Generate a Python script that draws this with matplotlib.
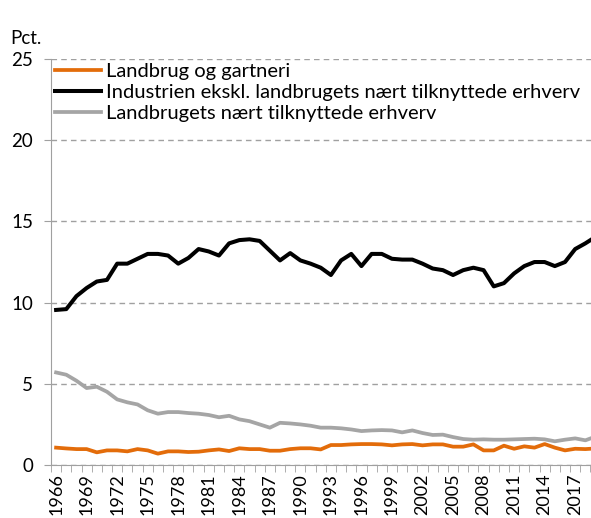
import numpy as np
import matplotlib
matplotlib.use("Agg")
import matplotlib.pyplot as plt
from matplotlib.ticker import MultipleLocator, FixedLocator

plt.rcParams['font.family'] = ['Lato', 'DejaVu Sans']

years = np.arange(1966, 2020)

landbrug = [1.07, 1.02, 0.98, 0.98, 0.78, 0.90, 0.90, 0.84, 0.98, 0.90,
            0.70, 0.84, 0.84, 0.80, 0.82, 0.90, 0.96, 0.86, 1.03, 0.98,
            0.98, 0.88, 0.88, 0.98, 1.03, 1.03, 0.96, 1.23, 1.23, 1.27,
            1.29, 1.29, 1.27, 1.21, 1.27, 1.29, 1.21, 1.27, 1.27, 1.13,
            1.13, 1.27, 0.90, 0.90, 1.19, 1.00, 1.15, 1.07, 1.29, 1.07,
            0.90, 1.00, 0.98, 1.02]

industri = [9.55, 9.60, 10.40, 10.90, 11.30, 11.40, 12.40, 12.40, 12.70, 13.00,
            13.00, 12.90, 12.40, 12.75, 13.30, 13.15, 12.90, 13.65, 13.85, 13.90,
            13.80, 13.20, 12.60, 13.05, 12.60, 12.40, 12.15, 11.70, 12.60, 13.00,
            12.25, 13.00, 13.00, 12.70, 12.65, 12.65, 12.40, 12.10, 12.00, 11.70,
            12.00, 12.15, 12.00, 11.00, 11.20, 11.80, 12.25, 12.50, 12.50, 12.25,
            12.50, 13.30, 13.65, 14.05]

tilknyttede = [5.70, 5.56, 5.19, 4.74, 4.82, 4.51, 4.04, 3.86, 3.73, 3.37,
               3.16, 3.26, 3.26, 3.20, 3.16, 3.08, 2.94, 3.03, 2.81, 2.70,
               2.50, 2.30, 2.60, 2.56, 2.50, 2.42, 2.30, 2.30, 2.26, 2.19,
               2.09, 2.13, 2.15, 2.13, 2.01, 2.13, 1.97, 1.85, 1.87, 1.72,
               1.60, 1.56, 1.58, 1.56, 1.56, 1.58, 1.60, 1.62, 1.58, 1.46,
               1.56, 1.64, 1.52, 1.75]

labels = ["Landbrug og gartneri",
          "Industrien ekskl. landbrugets nært tilknyttede erhverv",
          "Landbrugets nært tilknyttede erhverv"]

fig = plt.figure(figsize=(5.91, 5.18), dpi=100)
ax = fig.add_axes([0.0863, 0.1023, 0.93, 0.7837])

ax.plot(years, landbrug, color='#E36C0A', lw=2.7, label=labels[0])
ax.plot(years, industri, color='black', lw=2.9, label=labels[1])
ax.plot(years, tilknyttede, color='#A5A5A5', lw=2.7, label=labels[2])

ax.set_xlim(1965.5, 2019.5)
ax.set_ylim(0, 25)

ax.yaxis.set_major_locator(MultipleLocator(5))
ax.grid(axis='y', color='#A0A0A0', ls=(0, (4, 3)), lw=1)
ax.set_axisbelow(True)

# tick marks between the years, labels every third year
ax.xaxis.set_major_locator(FixedLocator(years[::3]))
ax.xaxis.set_minor_locator(FixedLocator(np.arange(1965.5, 2020, 1)))
ax.set_xticklabels([str(y) for y in years[::3]], rotation=90)
ax.tick_params(axis='x', which='major', length=0, pad=6, labelsize=13)
ax.tick_params(axis='x', which='minor', length=5, color='#A0A0A0', direction='out')
ax.tick_params(axis='y', length=5, color='#A0A0A0', labelsize=13.5, pad=8)

for s in ['top', 'right']:
    ax.spines[s].set_visible(False)
for s in ['left', 'bottom']:
    ax.spines[s].set_color('#A0A0A0')

fig.text(0.017, 0.926, "Pct.", fontsize=13.5, va='center')

ax.legend(loc='upper left', bbox_to_anchor=(0.007, 0.99), frameon=False,
          fontsize=14.5, handlelength=2.3, handletextpad=0.25, labelspacing=0.2,
          borderaxespad=0, borderpad=0)

fig.savefig("out.png", dpi=100)
